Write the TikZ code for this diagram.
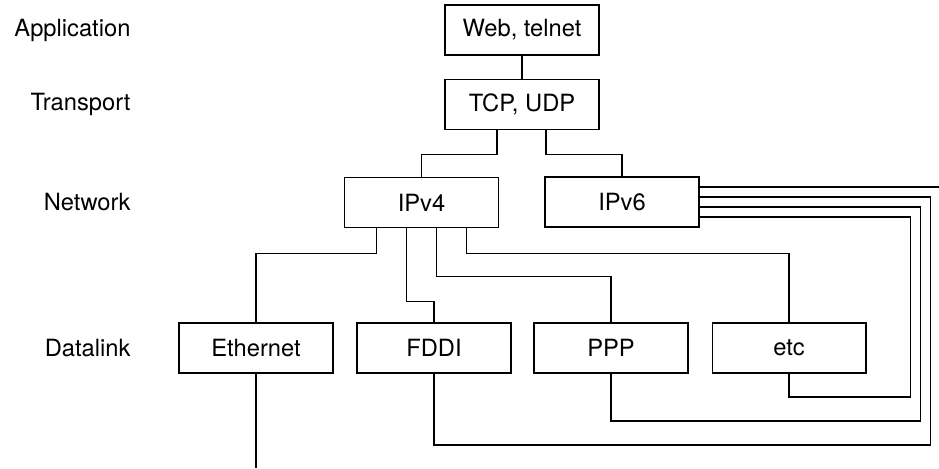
\documentclass[tikz,border=0pt]{standalone}
\usepackage{fontspec}
\setmainfont{TeX Gyre Heros}
\usetikzlibrary{calc}
\begin{document}
\begin{tikzpicture}[x=0.02cm,y=-0.02cm,line width=0.6pt,
    layerbox/.style={draw,minimum width=3.08cm,minimum height=1cm,inner sep=0pt,font=\fontsize{13.5}{16}\selectfont},
    layername/.style={anchor=east,inner sep=0pt,font=\fontsize{13.5}{16}\selectfont}]
  \useasboundingbox (0,0) rectangle (939,468);

  \node[layername] (app) at (131,30) {Application};
  \node[layername] (trans) at (131,104) {Transport};
  \node[layername] (net) at (131,202) {Network};
  \node[layername] (link) at (131,348) {Datalink};

  \node[layerbox] (web) at (522,30) {Web, telnet};
  \node[layerbox] (tcp) at (522,104.5) {TCP, UDP};
  \node[layerbox] (ipv4) at (421.5,202.5) {IPv4};
  \node[layerbox] (ipv6) at (622,202) {IPv6};
  \node[layerbox] (eth) at (256,348) {Ethernet};
  \node[layerbox] (fddi) at (434,348) {FDDI};
  \node[layerbox] (ppp) at (611,348) {PPP};
  \node[layerbox] (etc) at (789,348) {etc};

  \draw (web) -- (tcp);
  \draw ($(tcp.south)+(-25,0)$) -- ++(0,24) -| (ipv4.north);
  \draw ($(tcp.south)+(24,0)$) -- ++(0,24) -| (ipv6.north);

  \draw ($(ipv4.south)+(-45,0)$) -- ++(0,25) -| (eth.north);
  \draw ($(ipv4.south)+(-15,0)$) -- ++(0,73) -| (fddi.north);
  \draw ($(ipv4.south)+(15,0)$) -- ++(0,48) -| (ppp.north);
  \draw ($(ipv4.south)+(45,0)$) -- ++(0,25) -| (etc.north);

  \coordinate (wan) at (939,187);
  \draw (wan -| ipv6.east) -- (wan);
  \draw ($(ipv6.east)+(0,-5)$) -- ++(231,0) -- ++(0,248) -| (fddi.south);
  \draw ($(ipv6.east)+(0,5)$) -- ++(221,0) -- ++(0,214) -| (ppp.south);
  \draw ($(ipv6.east)+(0,15)$) -- ++(211,0) -- ++(0,180) -| (etc.south);

  \coordinate (lan) at (256,468);
  \draw (eth.south) -- (lan);
\end{tikzpicture}
\end{document}
